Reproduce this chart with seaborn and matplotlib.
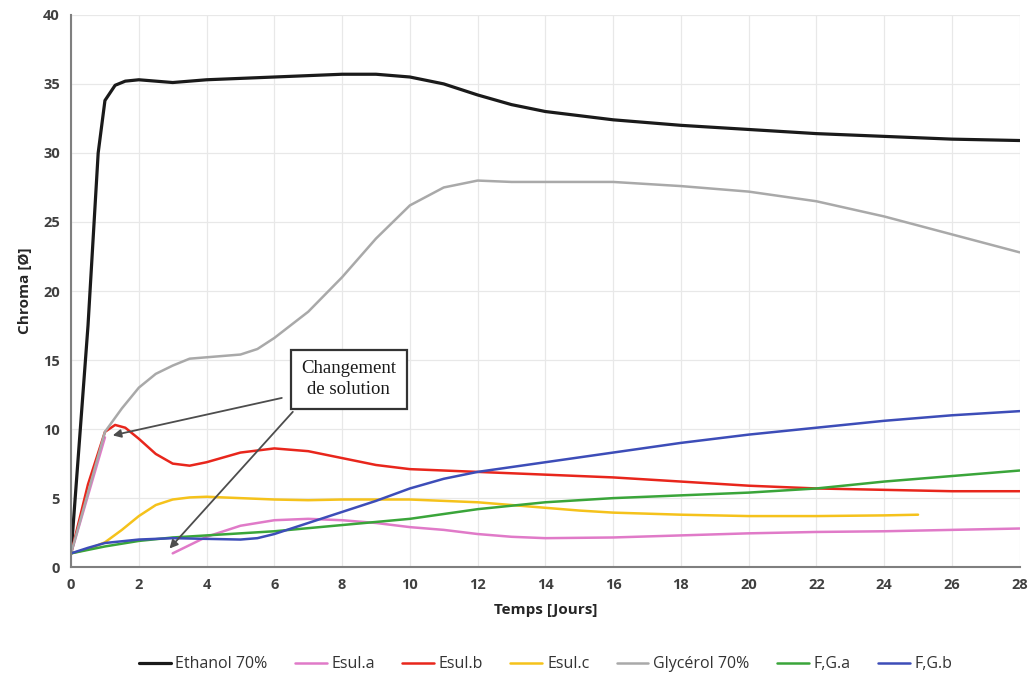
import matplotlib
matplotlib.use("Agg")
import matplotlib.pyplot as plt
import seaborn as sns
import numpy as np
import pandas as pd

# data (jours -> chroma)
ethanol_x = [0, 0.5, 0.8, 1, 1.3, 1.6, 2, 2.5, 3, 4, 5, 6, 7, 8, 9, 10, 11, 12, 13, 14, 16, 18, 20, 22, 24, 26, 28]
ethanol_y = [1, 17.5, 30, 33.8, 34.9, 35.2, 35.3, 35.2, 35.1, 35.3, 35.4, 35.5, 35.6, 35.7, 35.7, 35.5, 35.0, 34.2, 33.5, 33.0, 32.4, 32.0, 31.7, 31.4, 31.2, 31.0, 30.9]

esula_x = [0, 0.5, 1, 2, 3, 3.5, 4, 5, 6, 7, 8, 9, 10, 11, 12, 13, 14, 16, 18, 20, 22, 24, 26, 28]
esula_y = [1, 5.2, 9.4, np.nan, 1.0, 1.6, 2.2, 3.0, 3.4, 3.5, 3.4, 3.2, 2.9, 2.7, 2.4, 2.2, 2.1, 2.15, 2.3, 2.45, 2.55, 2.6, 2.7, 2.8]

esulb_x = [0, 0.5, 1, 1.3, 1.6, 2, 2.5, 3, 3.5, 4, 5, 6, 7, 8, 9, 10, 12, 14, 16, 18, 20, 22, 24, 26, 28]
esulb_y = [1, 6, 9.8, 10.3, 10.1, 9.3, 8.2, 7.5, 7.35, 7.6, 8.3, 8.6, 8.4, 7.9, 7.4, 7.1, 6.9, 6.7, 6.5, 6.2, 5.9, 5.7, 5.6, 5.5, 5.5]

esulc_x = [0, 0.5, 1, 1.5, 2, 2.5, 3, 3.5, 4, 5, 6, 7, 8, 9, 10, 11, 12, 13, 14, 15, 16, 18, 20, 22, 24, 25]
esulc_y = [1, 1.3, 1.8, 2.7, 3.7, 4.5, 4.9, 5.05, 5.1, 5.0, 4.9, 4.85, 4.9, 4.9, 4.9, 4.8, 4.7, 4.5, 4.3, 4.1, 3.95, 3.8, 3.7, 3.7, 3.75, 3.8]

glycerol_x = [0, 1, 1.5, 2, 2.5, 3, 3.5, 4, 5, 5.5, 6, 7, 8, 9, 10, 11, 12, 13, 14, 16, 18, 20, 22, 24, 26, 28]
glycerol_y = [1, 9.8, 11.5, 13, 14, 14.6, 15.1, 15.2, 15.4, 15.8, 16.6, 18.5, 21, 23.8, 26.2, 27.5, 28, 27.9, 27.9, 27.9, 27.6, 27.2, 26.5, 25.4, 24.1, 22.8]

fga_x = [0, 1, 2, 3, 4, 6, 8, 10, 12, 14, 16, 18, 20, 22, 24, 26, 28]
fga_y = [1, 1.5, 1.9, 2.15, 2.3, 2.6, 3.05, 3.5, 4.2, 4.7, 5.0, 5.2, 5.4, 5.7, 6.2, 6.6, 7.0]

fgb_x = [0, 0.5, 1, 2, 3, 4, 5, 5.5, 6, 7, 8, 9, 10, 11, 12, 14, 16, 18, 20, 22, 24, 26, 28]
fgb_y = [1, 1.4, 1.75, 2.0, 2.1, 2.05, 2.0, 2.1, 2.4, 3.2, 4.0, 4.8, 5.7, 6.4, 6.9, 7.6, 8.3, 9.0, 9.6, 10.1, 10.6, 11.0, 11.3]

series = [
    ("Ethanol 70%", ethanol_x, ethanol_y, "#1a1a1a"),
    ("Esul.a", esula_x, esula_y, "#e07ac8"),
    ("Esul.b", esulb_x, esulb_y, "#e8261c"),
    ("Esul.c", esulc_x, esulc_y, "#f5c21b"),
    ("Glycérol 70%", glycerol_x, glycerol_y, "#a9a9a9"),
    ("F,G.a", fga_x, fga_y, "#3aa53a"),
    ("F,G.b", fgb_x, fgb_y, "#3d4db8"),
]

sns.set_style("white")
plt.rcParams['font.family'] = ['Open Sans', 'DejaVu Sans']

fig = plt.figure(figsize=(10.3, 6.76), dpi=100)
ax = fig.add_axes([0.069, 0.161, 0.921, 0.817])

for name, xs, ys, col in series:
    df = pd.DataFrame({"x": xs, "y": ys})
    # split at gaps so the line breaks like in the original
    seg = df["y"].isna().cumsum()
    first = True
    for _, part in df.groupby(seg):
        part = part.dropna()
        if len(part) < 2:
            continue
        sns.lineplot(data=part, x="x", y="y", ax=ax, color=col, linewidth=2.3 if name == "Ethanol 70%" else 1.8,
                     sort=False, estimator=None, label=name if first else None, legend=False)
        first = False

ax.set_xlim(0, 28)
ax.set_ylim(0, 40)
ax.set_xticks(range(0, 29, 2))
ax.set_yticks(range(0, 41, 5))
ax.grid(True, color="#e8e8e8", linewidth=0.9)
for s in ["top", "right"]:
    ax.spines[s].set_visible(False)
for s in ["left", "bottom"]:
    ax.spines[s].set_color("#7f7f7f")
    ax.spines[s].set_linewidth(1.5)
ax.tick_params(axis="both", length=0, pad=8, labelsize=10.5, colors="#404040")
for lab in ax.get_xticklabels() + ax.get_yticklabels():
    lab.set_fontweight("bold")

ax.set_xlabel("Temps [Jours]", fontsize=11, fontweight="bold", color="#262626", labelpad=8)
ax.set_ylabel("Chroma [Ø]", fontsize=11, fontweight="bold", color="#262626", labelpad=8)

# annotation box with two arrows
ax.text(8.2, 13.6, "Changement\nde solution", ha="center", va="center", fontsize=13.5,
        family=["Liberation Serif", "DejaVu Serif"], color="#1a1a1a", linespacing=1.3,
        bbox=dict(boxstyle="square,pad=0.55", fc="white", ec="#333333", lw=1.6))
arrow = dict(arrowstyle="-|>", color="#4d4d4d", lw=1.3, mutation_scale=12)
ax.annotate("", xy=(1.15, 9.5), xytext=(6.3, 12.3), arrowprops=arrow)
ax.annotate("", xy=(2.85, 1.2), xytext=(6.6, 11.4), arrowprops=arrow)

ax.legend(loc="upper center", bbox_to_anchor=(0.5, -0.135), ncol=7, frameon=False,
          fontsize=11.5, handlelength=2.0, handletextpad=0.3, columnspacing=1.7,
          labelcolor="#333333")

fig.savefig("out.png", dpi=100)
